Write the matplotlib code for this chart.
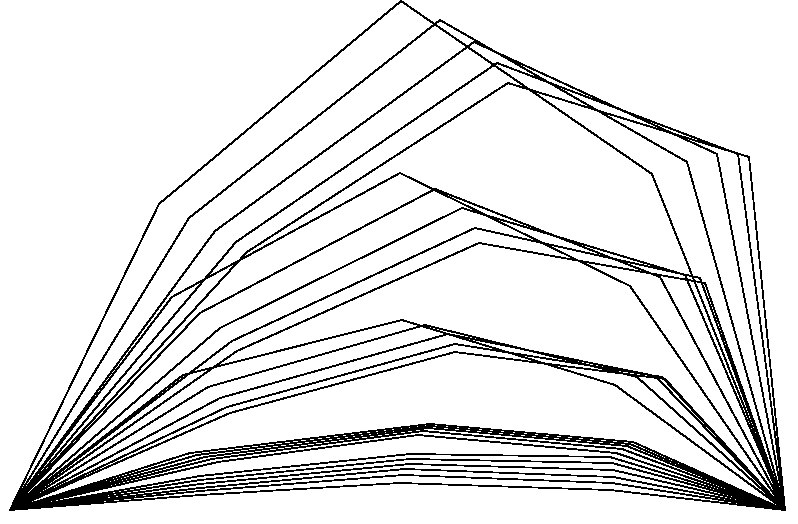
#!/usr/bin/env python3
import matplotlib
matplotlib.use("Agg")
import matplotlib.pyplot as plt

# every line starts and ends at the same two corners
start_x, start_y = 10, 510
end_x, end_y = 785, 510

# groups of lines: left bend, peak, right bend
left_x = [159, 189, 215, 236, 247,
          172, 200, 220, 232, 237,
          183, 208, 220, 227, 230,
          190, 197, 205, 212, 218,
          200, 200, 200, 200, 200, 200]
left_y = [204, 218, 231, 242, 252,
          297, 313, 328, 341, 351,
          375, 387, 398, 407, 413,
          453, 455, 457, 459, 462,
          476, 480, 484, 488, 491, 495]
peak_x = [401, 440, 474, 497, 508,
          400, 435, 462, 475, 479,
          402, 425, 448, 455, 455,
          430, 430, 428, 423, 418,
          410, 410, 410, 405, 403, 400]
peak_y = [1, 20, 42, 63, 83,
          173, 189, 208, 228, 243,
          320, 325, 334, 344, 352,
          424, 426, 428, 431, 435,
          454, 459, 464, 469, 475, 483]
right_x = [652, 687, 717, 738, 749,
           630, 660, 685, 700, 705,
           615, 637, 655, 662, 665,
           633, 630, 627, 622, 616,
           610, 612, 613, 613, 612, 610]
right_y = [174, 162, 154, 154, 157,
           286, 277, 275, 278, 283,
           385, 377, 376, 377, 379,
           442, 444, 446, 449, 453,
           457, 463, 470, 477, 483, 490]


def draw_lines(output_path):
    fig = plt.figure(figsize=(7.98, 5.24), dpi=100)
    ax = fig.add_axes([0, 0, 1, 1])
    for i in range(len(left_x)):
        xs = [start_x, left_x[i], peak_x[i], right_x[i], end_x]
        ys = [start_y, left_y[i], peak_y[i], right_y[i], end_y]
        ax.plot(xs, ys, color='black', linewidth=0.55, antialiased=False)
    ax.set_xlim(0, 798)
    ax.set_ylim(524, 0)
    ax.axis('off')
    fig.savefig(output_path, dpi=100, facecolor='white')
    plt.close(fig)


if __name__ == "__main__":
    draw_lines('out.png')
